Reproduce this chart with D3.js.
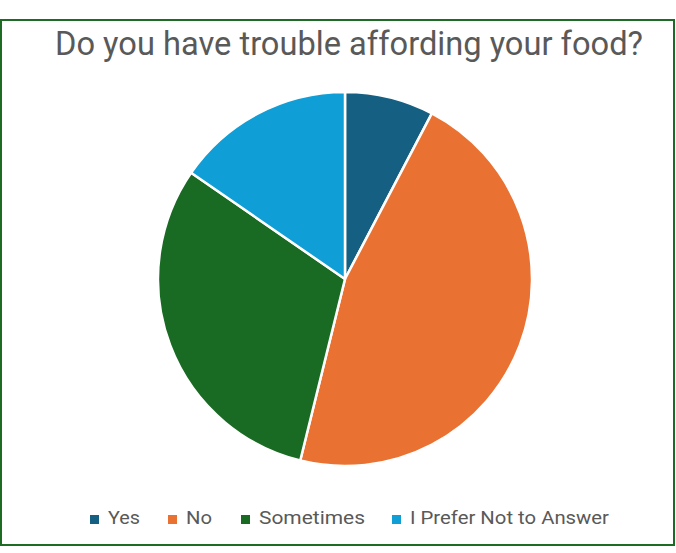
<!DOCTYPE html>
<html>
<head>
<meta charset="utf-8">
<script src="https://cdn.jsdelivr.net/npm/d3@7"></script>
<style>
  html, body { margin: 0; padding: 0; background: #fff; }
  svg { display: block; }
  text { font-family: "Liberation Sans Narrow", "Roboto", "Liberation Sans", sans-serif; fill: #595959; }
</style>
</head>
<body>
<svg id="chart" width="676" height="553"></svg>
<script>
// Survey responses
const categories = ["Yes", "No", "Sometimes", "I Prefer Not to Answer"];
const counts = [2, 12, 8, 4];
const colors = ["#156082", "#E97132", "#196B24", "#0F9ED5"];
const title = "Do you have trouble affording your food?";

const svg = d3.select("#chart");

// chart frame
svg.append("rect")
  .attr("x", 1).attr("y", 20)
  .attr("width", 673).attr("height", 525)
  .attr("fill", "#fff")
  .attr("stroke", "#1E6B26")
  .attr("stroke-width", 2);

// title
svg.append("text")
  .attr("x", 349).attr("y", 55)
  .attr("text-anchor", "middle")
  .attr("font-size", 33)
  .attr("textLength", 588)
  .attr("lengthAdjust", "spacingAndGlyphs")
  .text(title);

// pie
const cx = 345, cy = 279, r = 187;
const pie = d3.pie().sort(null).value(d => d.value);
const arc = d3.arc().innerRadius(0).outerRadius(r);
const data = categories.map((c, i) => ({ name: c, value: counts[i], color: colors[i] }));

svg.append("g")
  .attr("transform", `translate(${cx},${cy})`)
  .selectAll("path")
  .data(pie(data))
  .join("path")
  .attr("d", arc)
  .attr("fill", d => d.data.color)
  .attr("stroke", "#fff")
  .attr("stroke-width", 2.5)
  .attr("stroke-linejoin", "round");

// legend
const legendX = [90, 168, 241, 392];
const legendW = [32, 26, 106, 199];
const lg = svg.append("g").selectAll("g")
  .data(data)
  .join("g")
  .attr("transform", (d, i) => `translate(${legendX[i]},514)`);
lg.append("rect")
  .attr("x", 0).attr("y", 1)
  .attr("width", 9).attr("height", 9)
  .attr("fill", d => d.color);
lg.append("text")
  .attr("x", 18).attr("y", 10)
  .attr("font-size", 19)
  .attr("textLength", (d, i) => legendW[i])
  .attr("lengthAdjust", "spacingAndGlyphs")
  .text(d => d.name);
</script>
</body>
</html>
